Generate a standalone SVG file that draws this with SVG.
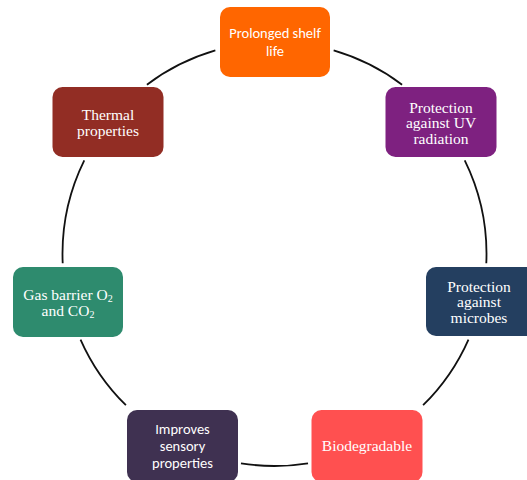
<svg xmlns="http://www.w3.org/2000/svg" width="527" height="480" viewBox="0 0 527 480">
<style>
.arc{fill:none;stroke:#111;stroke-width:1.8}
.box{stroke:none}
.t{fill:#fff;text-anchor:middle;dominant-baseline:central}
.serif{font-family:"Liberation Serif","Times New Roman",serif;font-size:15.5px}
.sans{font-family:Carlito,Lato,"Liberation Sans",sans-serif;font-size:14.5px}
.sub{font-size:10px}
</style>
<rect width="527" height="480" fill="#fff"/>
<g id="connectors">
<path class="arc" d="M333.65 50.42 A212 212 0 0 1 402.08 84.70"/>
<path class="arc" d="M464.73 160.40 A212 212 0 0 1 486.30 263.25"/>
<path class="arc" d="M468.48 339.55 A212 212 0 0 1 423.09 405.21"/>
<path class="arc" d="M308.03 463.33 A212 212 0 0 1 240.97 463.33"/>
<path class="arc" d="M125.91 405.21 A212 212 0 0 1 80.52 339.55"/>
<path class="arc" d="M62.70 263.25 A212 212 0 0 1 84.27 160.40"/>
<path class="arc" d="M146.92 84.70 A212 212 0 0 1 215.35 50.42"/>
</g>
<g id="node-shelf-life">
<rect class="box" x="220" y="7" width="110" height="70" rx="10" fill="#FF6600"/>
<text class="t sans" x="275" y="33">Prolonged shelf</text>
<text class="t sans" x="275" y="50.5">life</text>
</g>
<g id="node-uv">
<rect class="box" x="385.5" y="87" width="111" height="70" rx="10" fill="#7E2180"/>
<text class="t serif" x="441" y="107">Protection</text>
<text class="t serif" x="441" y="122.5">against UV</text>
<text class="t serif" x="441" y="138">radiation</text>
</g>
<g id="node-microbes">
<rect class="box" x="426" y="267" width="111" height="69" rx="10" fill="#243F60"/>
<text class="t serif" x="479" y="286">Protection</text>
<text class="t serif" x="479" y="301.5">against</text>
<text class="t serif" x="479" y="317">microbes</text>
</g>
<g id="node-biodegradable">
<rect class="box" x="311.5" y="410" width="111" height="72" rx="10" fill="#FF5050"/>
<text class="t serif" x="367" y="445">Biodegradable</text>
</g>
<g id="node-sensory">
<rect class="box" x="127" y="410" width="111" height="72" rx="10" fill="#3F3151"/>
<text class="t sans" x="182.5" y="428.5">Improves</text>
<text class="t sans" x="182.5" y="445.5">sensory</text>
<text class="t sans" x="182.5" y="462.5">properties</text>
</g>
<g id="node-gas-barrier">
<rect class="box" x="13" y="267" width="110" height="70" rx="10" fill="#2E8B6E"/>
<text class="t serif" x="68" y="294">Gas barrier O<tspan class="sub" dy="4">2</tspan></text>
<text class="t serif" x="68" y="310">and CO<tspan class="sub" dy="4">2</tspan></text>
</g>
<g id="node-thermal">
<rect class="box" x="52.5" y="87" width="111" height="70" rx="10" fill="#922D24"/>
<text class="t serif" x="108" y="114">Thermal</text>
<text class="t serif" x="108" y="130">properties</text>
</g>
</svg>
